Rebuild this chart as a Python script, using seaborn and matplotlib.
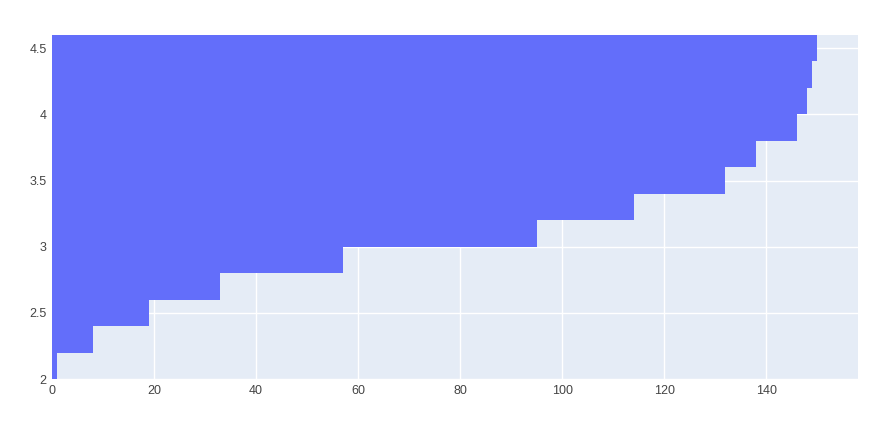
import numpy as np
import pandas as pd
import matplotlib
matplotlib.use('Agg')
import matplotlib.pyplot as plt
import seaborn as sns

# cumulative histogram of sepal width, bins of 0.2
bin_starts = [2.0, 2.2, 2.4, 2.6, 2.8, 3.0, 3.2, 3.4, 3.6, 3.8, 4.0, 4.2, 4.4]
cum_counts = [1, 8, 19, 33, 57, 95, 114, 132, 138, 146, 148, 149, 150]
bin_width = 0.2

y_ticks = [2, 2.5, 3, 3.5, 4, 4.5]
y_tick_labels = ['2', '2.5', '3', '3.5', '4', '4.5']
x_ticks = [0, 20, 40, 60, 80, 100, 120, 140]

BAR_COLOR = '#636EFA'
BG_COLOR = '#E5ECF6'
TEXT_COLOR = '#444444'

sns.set_style('darkgrid', {
    'axes.facecolor': BG_COLOR,
    'grid.color': 'white',
})
plt.rcParams['font.family'] = ['Liberation Sans', 'DejaVu Sans']

df = pd.DataFrame({
    'mid': [b + bin_width / 2 for b in bin_starts],
    'count': cum_counts,
})
edges = [bin_starts[0] + i * bin_width for i in range(len(bin_starts) + 1)]

fig, ax = plt.subplots(figsize=(8.95, 4.30), dpi=100)
fig.subplots_adjust(left=0.0581, right=0.9587, top=0.9186, bottom=0.1186)

sns.histplot(data=df, y='mid', weights='count', bins=edges, ax=ax,
             color=BAR_COLOR, alpha=1, edgecolor='none', linewidth=0)

ax.set_xlim(0, 158)
ax.set_ylim(2, 4.6)
ax.set_yticks(y_ticks)
ax.set_yticklabels(y_tick_labels)
ax.set_xticks(x_ticks)
ax.set_xlabel('')
ax.set_ylabel('')
ax.tick_params(axis='both', length=0, labelsize=9, colors=TEXT_COLOR, pad=4)
ax.grid(True, color='white', linewidth=1)
ax.set_axisbelow(True)
for s in ax.spines.values():
    s.set_visible(False)

fig.savefig('out.png', dpi=100)
